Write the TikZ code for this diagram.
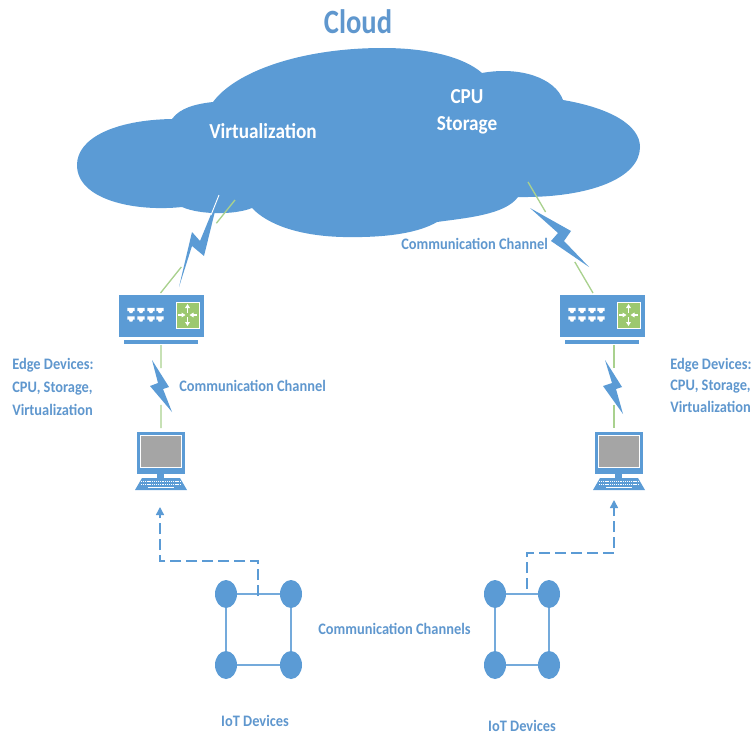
\documentclass[tikz,border=0pt]{standalone}
\usepackage{fontspec}
\setmainfont{Carlito}
\newfontfamily\narrowfont[FakeStretch=0.9]{Carlito}
\newfontfamily\cloudfont[FakeStretch=0.84]{Carlito}
\usetikzlibrary{arrows.meta,calc,shapes.geometric}
\definecolor{cblue}{HTML}{5B9BD5}
\definecolor{tblue}{HTML}{5F97CE}
\definecolor{cgreen}{HTML}{A9D18E}
\definecolor{cgreenb}{HTML}{9CC86F}
\definecolor{cgray}{HTML}{A5A5A5}
\tikzset{
  lbl/.style={text=tblue,font=\narrowfont\bfseries\fontsize{12}{14}\selectfont,inner sep=0pt},
  edgelbl/.style={lbl,align=left,anchor=north west,font=\narrowfont\bfseries\fontsize{12}{17.2}\selectfont},
  whitelbl/.style={text=white,font=\narrowfont\bfseries\fontsize{16}{18}\selectfont,inner sep=0pt},
  bolt/.style={fill=cblue,draw=none},
  greenline/.style={draw=cgreen,line width=1pt},
  dashline/.style={draw=cblue,line width=1.1pt,dash pattern=on 8pt off 4pt},
  iotnode/.style={ellipse,fill=cblue,minimum width=16.5pt,minimum height=21pt,inner sep=0pt},
  iotlink/.style={draw=cblue!85,line width=.8pt},
  switchbody/.style={fill=cblue,minimum width=63.75pt,minimum height=31pt,inner sep=0pt},
  pcbody/.style={fill=cblue,minimum width=36pt,minimum height=31.5pt,inner sep=0pt},
  tip/.style={-{Triangle[length=6pt,width=6pt]}}
}
\newcommand{\myswitch}[2]{%
  \node[switchbody,anchor=north west] (#2) at (#1,295) {};
  \begin{scope}[shift={(#1,0)}]
    \fill[cblue] (5,340) rectangle (79,344);
    \fill[cgreenb,draw=white,line width=.4pt] (57,302) rectangle (80,328);
    \foreach \c in {12,22,32,41}{\foreach \r in {310.5,319}{
      \fill[white] (\c-3.7,\r-2.7) -- (\c+3.7,\r-2.7) -- (\c+3.7,\r+.7) -- (\c+2,\r+.7) -- (\c+1.3,\r+2.7) -- (\c-1.3,\r+2.7) -- (\c-2,\r+.7) -- (\c-3.7,\r+.7) -- cycle;}}
    \begin{scope}[white,line width=.8pt,-{Triangle[length=3pt,width=3.5pt]}]
      \draw (68.5,313) -- (68.5,304);
      \draw (68.5,317) -- (68.5,326);
      \draw (59,315) -- (66.5,315);
      \draw (78,315) -- (70.5,315);
    \end{scope}
  \end{scope}}
\newcommand{\mypc}[2]{%
  \node[pcbody,anchor=north west] (#2) at (#1,432) {};
  \begin{scope}[shift={(#1,0)}]
    \fill[cgray,draw=white,line width=.5pt] (3.5,435.5) rectangle (44.5,467);
    \fill[cblue] (20,474) rectangle (27,478);
    \fill[cblue] (5,478) -- (43,478) -- (50,490) -- (-2,490) -- cycle;
    \foreach \y in {481,484}{\draw[white,line width=.7pt,dash pattern=on .8pt off .6pt] (4,\y) -- (44,\y);}
    \draw[white,line width=.7pt] (11,487) -- (37,487);
  \end{scope}}
\begin{document}
\begin{tikzpicture}[x=0.75pt,y=-0.75pt]
\useasboundingbox (0,0) rectangle (753,735);
% cloud
\fill[cblue] (77,165)
  .. controls (77,138) and (115,120) .. (172,119)
  .. controls (180,108) and (195,104) .. (213,102)
  .. controls (235,72) and (300,48) .. (383,48)
  .. controls (430,48) and (465,58) .. (482,73)
  .. controls (520,66) and (555,78) .. (563,100)
  .. controls (610,108) and (640,125) .. (640,147)
  .. controls (640,178) and (590,198) .. (518,197)
  .. controls (505,215) and (465,218) .. (437,222)
  .. controls (420,232) and (390,238) .. (343,237)
  .. controls (300,236) and (268,225) .. (252,208)
  .. controls (235,215) and (200,215) .. (182,207)
  .. controls (135,212) and (77,200) .. (77,165) -- cycle;
\node[text=tblue,font=\cloudfont\bfseries\fontsize{25.5}{28}\selectfont,inner sep=0pt] (title) at (358,22) {Cloud};
\node[whitelbl] (virt) at (263,131) {Virtualization};
\node[whitelbl] (cpu) at (467,97) {CPU};
\node[whitelbl] (stor) at (467,125) {Storage};
% devices
\myswitch{119}{swa}
\myswitch{560}{swb}
\mypc{137}{pca}
\mypc{595}{pcb}
% cloud anchors
\coordinate (cla) at (235,200);
\coordinate (clb) at (528,182);
\coordinate (swat) at (160.5,293);
\coordinate (swbt) at (593,293);
\coordinate (swab) at (161,345);
\coordinate (swbb) at (614,345);
\coordinate (pcat) at (161,428);
\coordinate (pcbt) at (614,428);
\coordinate (ta) at (160,507);
\coordinate (tb) at (614,500);
% green connectors, broken where the bolts cross them
\draw[greenline] (cla) -- ($(cla)!.25!(swat)$);
\draw[greenline] ($(cla)!.72!(swat)$) -- (swat);
\draw[greenline] (clb) -- ($(clb)!.27!(swbt)$);
\draw[greenline] ($(clb)!.72!(swbt)$) -- (swbt);
\draw[greenline] (swab) -- ($(swab)!.28!(pcat)$);
\draw[greenline] ($(swab)!.72!(pcat)$) -- (pcat);
\draw[greenline] (swbb) -- ($(swbb)!.28!(pcbt)$);
\draw[greenline] ($(swbb)!.72!(pcbt)$) -- (pcbt);
% bolts
\fill[bolt] (219,195) -- (204,256) -- (192,246) -- (179,287) -- (192,232) -- (200,241) -- cycle;
\draw[white,line width=.7pt] (219,195) -- (211,215);
\fill[bolt] (530,208) -- (571,231) -- (564,241) -- (589,267) -- (551,241) -- (558,233) -- cycle;
\fill[bolt] (152,360) -- (169,387) -- (163,389) -- (172,412) -- (150,386) -- (158,383) -- cycle;
\fill[bolt] (605,360) -- (622,387) -- (616,389) -- (623,414) -- (603,386) -- (612,383) -- cycle;
% labels
\node[lbl,anchor=west] (cca) at (401,243.5) {Communication Channel};
\node[lbl,anchor=west] (ccb) at (179,385.5) {Communication Channel};
\node[lbl,anchor=west] (ccc) at (318,628.5) {Communication Channels};
\node[edgelbl] (ea) at (12,358) {Edge Devices:\\CPU, Storage,\\Virtualization};
\node[edgelbl,font=\narrowfont\bfseries\fontsize{12}{16}\selectfont] (eb) at (670,358) {Edge Devices:\\CPU, Storage,\\Virtualization};
% IoT left
\node[iotnode] (a1) at (226,594) {};
\node[iotnode] (a2) at (291,594) {};
\node[iotnode] (a3) at (226,665) {};
\node[iotnode] (a4) at (291,665) {};
\draw[iotlink] (a1) -- (a2) -- (a4) -- (a3) -- (a1);
\coordinate (ja) at (258,596);
\draw[dashline,tip] (ja) -- (258,561) -- (160,561) -- (ta);
% IoT right
\node[iotnode] (b1) at (495,594) {};
\node[iotnode] (b2) at (549,594) {};
\node[iotnode] (b3) at (495,665) {};
\node[iotnode] (b4) at (549,665) {};
\draw[iotlink] (b1) -- (b2) -- (b4) -- (b3) -- (b1);
\coordinate (jb) at (527,589);
\draw[dashline,tip] (jb) -- (527,553) -- (614,553) -- (tb);
\node[lbl] (ia) at (255,720.5) {IoT Devices};
\node[lbl] (ib) at (522,725.5) {IoT Devices};
\end{tikzpicture}
\end{document}
